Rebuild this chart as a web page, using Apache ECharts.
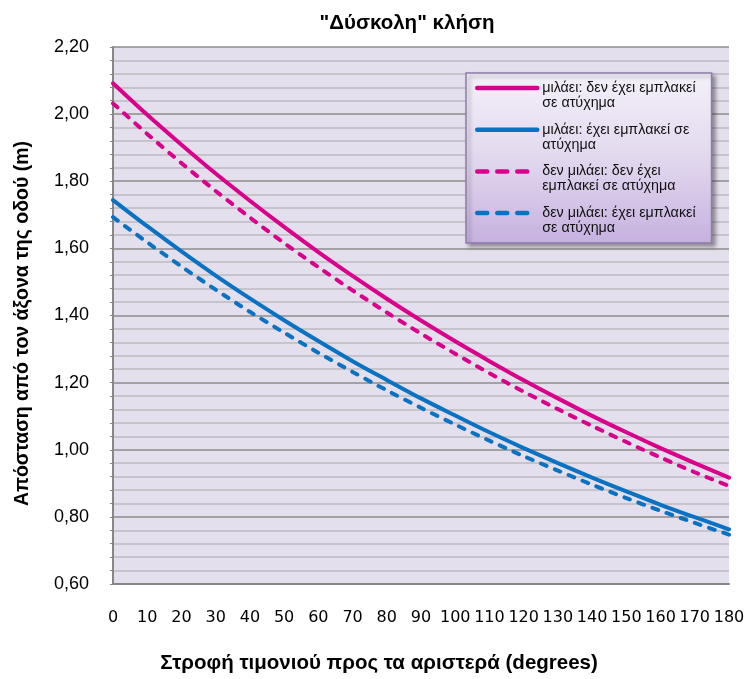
<!DOCTYPE html>
<html>
<head>
<meta charset="utf-8">
<script src="https://cdn.jsdelivr.net/npm/echarts@6/dist/echarts.min.js"></script>
<style>html,body{margin:0;padding:0;background:#fff}#c{width:749px;height:679px}</style>
</head>
<body>
<div id="c"></div>
<script>
const categories = ['0','10','20','30','40','50','60','70','80','90','100','110','120','130','140','150','160','170','180'];
const yTicks = [0.6, 0.8, 1.0, 1.2, 1.4, 1.6, 1.8, 2.0, 2.2];
const seriesNames = [
  'μιλάει: δεν έχει εμπλακεί σε ατύχημα',
  'μιλάει: έχει εμπλακεί σε ατύχημα',
  'δεν μιλάει: δεν έχει εμπλακεί σε ατύχημα',
  'δεν μιλάει: έχει εμπλακεί σε ατύχημα'
];
const legendLabels = [
  'μιλάει: δεν έχει εμπλακεί\nσε ατύχημα',
  'μιλάει: έχει εμπλακεί σε\nατύχημα',
  'δεν μιλάει: δεν έχει\nεμπλακεί σε ατύχημα',
  'δεν μιλάει: έχει εμπλακεί\nσε ατύχημα'
];
const talkingNoAccident = [2.092, 1.998, 1.909, 1.823, 1.742, 1.664, 1.589, 1.518, 1.450, 1.385, 1.323, 1.264, 1.207, 1.153, 1.101, 1.052, 1.005, 0.960, 0.917];
const talkingAccident = [1.744, 1.666, 1.591, 1.519, 1.451, 1.386, 1.324, 1.264, 1.208, 1.153, 1.102, 1.052, 1.005, 0.960, 0.917, 0.876, 0.836, 0.799, 0.763];
const notTalkingNoAccident = [2.032, 1.941, 1.854, 1.771, 1.692, 1.616, 1.544, 1.475, 1.409, 1.346, 1.286, 1.228, 1.173, 1.121, 1.071, 1.023, 0.977, 0.933, 0.892];
const notTalkingAccident = [1.693, 1.618, 1.546, 1.477, 1.411, 1.349, 1.289, 1.232, 1.177, 1.125, 1.075, 1.027, 0.981, 0.938, 0.896, 0.856, 0.818, 0.782, 0.747];

const MAGENTA = '#D9008C';
const BLUE = '#0A72C2';
const chart = echarts.init(document.getElementById('c'), null, {renderer: 'canvas'});

function mk(name, data, color, dashed) {
  return {
    name: name, type: 'line', data: data, symbol: 'none', smooth: 0.3,
    lineStyle: {color: color, width: 4, type: dashed ? [6, 9] : 'solid', cap: 'round'},
    itemStyle: {color: color, opacity: 0}
  };
}

chart.setOption({
  animation: false,
  backgroundColor: '#ffffff',
  textStyle: {fontFamily: '"Liberation Sans", Arial, sans-serif'},
  graphic: [
    {type: 'text', x: 407, y: 23, style: {text: '"Δύσκολη" κλήση', font: 'bold 20.5px "Liberation Sans", Arial, sans-serif', fill: '#000', align: 'center', verticalAlign: 'middle'}},
    {type: 'text', x: 379, y: 663, style: {text: 'Στροφή τιμονιού προς τα αριστερά (degrees)', font: 'bold 20.5px "Liberation Sans", Arial, sans-serif', fill: '#000', align: 'center', verticalAlign: 'middle'}}
  ],
  grid: {left: 113, right: 20, top: 47, bottom: 95, show: true, backgroundColor: '#E4DFEC', borderWidth: 0, containLabel: false},
  legend: {
    orient: 'vertical', left: 466, top: 73,
    padding: [-7.5, 16, 7.5, 9],
    itemWidth: 60, itemHeight: 14, itemGap: -3.3,
    data: seriesNames.map(function (n, i) {
      return {name: n, lineStyle: {width: 4.5, cap: 'round', type: i >= 2 ? [10, 10] : 'solid'}};
    }),
    formatter: function (n) { return '\n' + legendLabels[seriesNames.indexOf(n)]; },
    itemStyle: {opacity: 0},
    textStyle: {fontSize: 14.3, lineHeight: 15, color: '#111', fontFamily: '"Liberation Sans", Arial, sans-serif'},
    backgroundColor: new echarts.graphic.LinearGradient(0, 0, 0, 1, [
      {offset: 0, color: '#F4F1F9'}, {offset: 0.5, color: '#E2D8EE'}, {offset: 1, color: '#C6B1DF'}
    ]),
    borderColor: '#8E7BAA', borderWidth: 1.5,
    shadowColor: 'rgba(0,0,0,0.35)', shadowBlur: 4, shadowOffsetX: 3, shadowOffsetY: 3
  },
  xAxis: {
    type: 'category', data: categories, boundaryGap: false,
    axisLine: {show: true, lineStyle: {color: '#868686', width: 2}},
    axisTick: {show: false},
    axisLabel: {interval: 0, margin: 26, color: '#000', fontSize: 16, fontFamily: '"DejaVu Sans", sans-serif'},
    splitLine: {show: false}
  },
  yAxis: {
    type: 'value', min: yTicks[0], max: yTicks[yTicks.length - 1], interval: 0.2,
    name: 'Απόσταση από τον άξονα της οδού (m)', nameLocation: 'middle', nameGap: 80,
    nameTextStyle: {fontWeight: 'bold', fontSize: 19.5, color: '#000', fontFamily: '"Liberation Sans", Arial, sans-serif', padding: [0, 16, 0, 0]},
    axisLine: {show: true, lineStyle: {color: '#868686', width: 2}},
    axisTick: {show: true, length: 3, lineStyle: {color: '#868686'}},
    minorTick: {show: true, splitNumber: 5, length: 3, lineStyle: {color: '#868686'}},
    axisLabel: {margin: 24, color: '#000', fontSize: 18, formatter: function (v) { return v.toFixed(2).replace('.', ','); }},
    splitLine: {show: true, lineStyle: {color: '#8C8C8C', width: 1.5}},
    minorSplitLine: {show: true, lineStyle: {color: '#BDBABF', width: 1.5}}
  },
  series: [
    mk(seriesNames[0], talkingNoAccident, MAGENTA, false),
    mk(seriesNames[1], talkingAccident, BLUE, false),
    mk(seriesNames[2], notTalkingNoAccident, MAGENTA, true),
    mk(seriesNames[3], notTalkingAccident, BLUE, true)
  ]
});
</script>
</body>
</html>
